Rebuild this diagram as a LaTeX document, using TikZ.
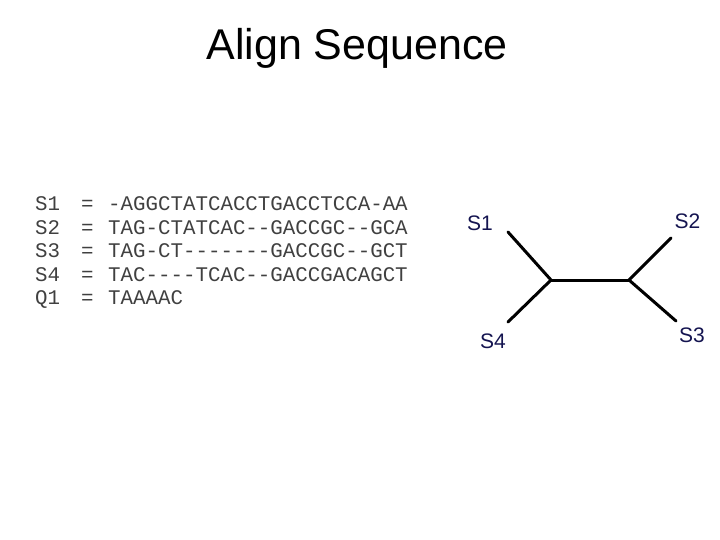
\documentclass[tikz,border=0pt]{standalone}
\usepackage{fontspec}
\setmainfont{Liberation Sans}
\newfontfamily\seqfont{Liberation Mono}
\definecolor{leafblue}{HTML}{141450}
\definecolor{seqgray}{HTML}{404040}
\tikzset{
  seqtext/.style={font=\seqfont\fontsize{20.8}{24}\selectfont, text=seqgray, anchor=base west, inner sep=0pt},
  leaflabel/.style={font=\fontsize{21}{24}\selectfont, text=leafblue, inner sep=0pt},
  branch/.style={line width=3pt, line cap=round}
}
\begin{document}
\begin{tikzpicture}[x=1pt,y=-1pt]
    \useasboundingbox (0,0) rectangle (720,540);

    % title
    \node[font=\fontsize{43}{48}\selectfont, anchor=base, inner sep=0pt] (title) at (357,60) {Align Sequence};

    % aligned sequences
    \node[seqtext] (nS1) at (35,211) {S1}; \node[seqtext] (eS1) at (81,211) {=};
    \node[seqtext] (qS1) at (108,211) {-AGGCTATCACCTGACCTCCA-AA};
    \node[seqtext] (nS2) at (35,234.3) {S2}; \node[seqtext] (eS2) at (81,234.3) {=};
    \node[seqtext] (qS2) at (108,234.3) {TAG-CTATCAC--GACCGC--GCA};
    \node[seqtext] (nS3) at (35,257.7) {S3}; \node[seqtext] (eS3) at (81,257.7) {=};
    \node[seqtext] (qS3) at (108,257.7) {TAG-CT-------GACCGC--GCT};
    \node[seqtext] (nS4) at (35,281) {S4}; \node[seqtext] (eS4) at (81,281) {=};
    \node[seqtext] (qS4) at (108,281) {TAC----TCAC--GACCGACAGCT};
    \node[seqtext] (nQ1) at (35,304.3) {Q1}; \node[seqtext] (eQ1) at (81,304.3) {=};
    \node[seqtext] (qQ1) at (108,304.3) {TAAAAC};

    % tree
    \coordinate (left) at (551,280); \coordinate (right) at (629,280);
    \coordinate (tipS1) at (508,232); \coordinate (tipS4) at (508,322);
    \coordinate (tipS2) at (671,238); \coordinate (tipS3) at (676,321);
    \draw[branch] (tipS1) -- (left) -- (tipS4);
    \draw[branch] (tipS2) -- (right) -- (tipS3);
    \draw[branch] (left) -- (right);

    % leaf labels
    \node[leaflabel] (lS1) at (480,223) {S1}; \node[leaflabel] (lS2) at (687.5,221.5) {S2};
    \node[leaflabel] (lS4) at (493,341.5) {S4}; \node[leaflabel] (lS3) at (692,335) {S3};
\end{tikzpicture}
\end{document}
